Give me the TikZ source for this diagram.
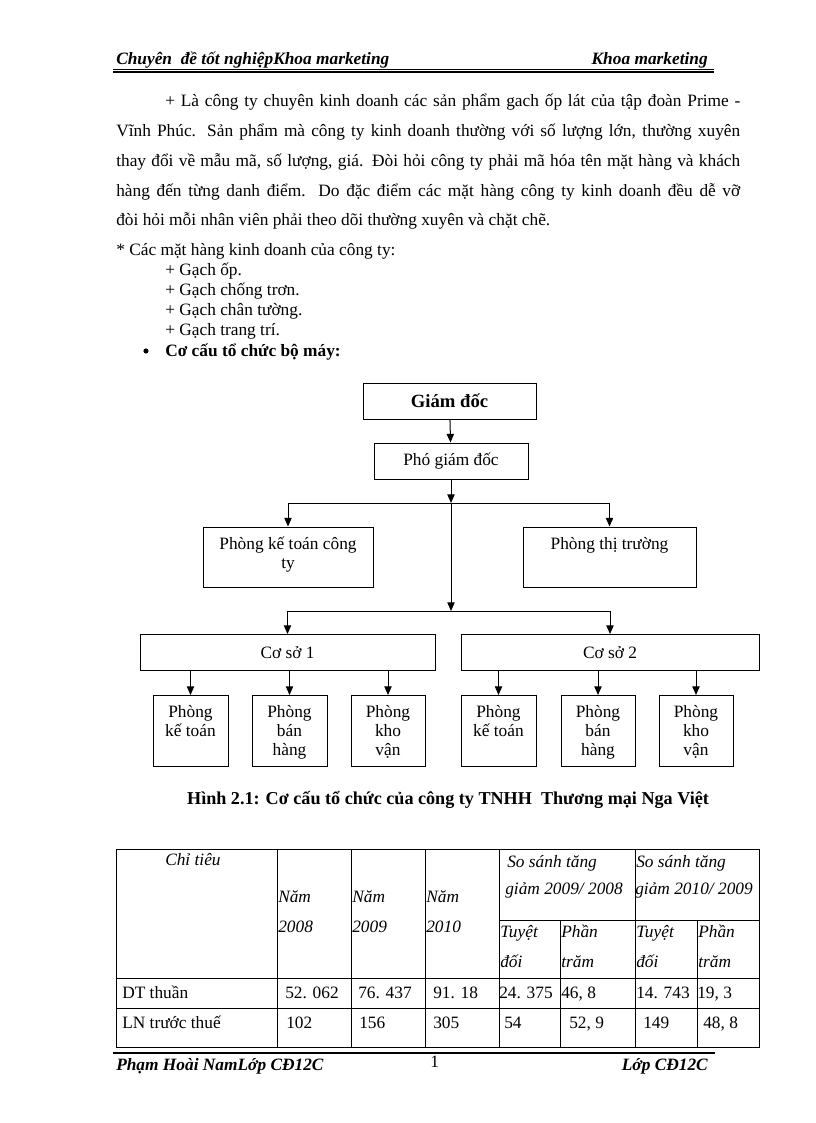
\documentclass[tikz,border=0pt]{standalone}
\usepackage{fontspec}
\setmainfont{Liberation Serif}
\usetikzlibrary{arrows.meta}
\newdimen\px \px=0.75pt
\newcommand\fb{\fontsize{13}{14.25}\selectfont}
\newcommand\fgd{\fontsize{14}{16}\selectfont\bfseries}
\newcommand\tb[4]{\parbox[c][#2\px][t]{#1\px}{\centering\vspace*{#3\px}#4\par}}
\begin{document}
\begin{tikzpicture}[x=0.75pt,y=-0.75pt,
  txt/.style={inner sep=0pt,anchor=base west,font=\fb},
  txtr/.style={inner sep=0pt,anchor=base east,font=\fb},
  box/.style={draw,line width=0.75pt,inner sep=0pt,font=\fb},
  arr/.style={line width=0.75pt,-{Triangle[length=6.5pt,width=5.5pt]}},
  grid/.style={line width=0.75pt},
  hdr/.style={inner sep=0pt,font=\fb\bfseries\itshape},
  tit/.style={inner sep=0pt,anchor=base west,font=\fb\itshape}]
\useasboundingbox (0,0) rectangle (816,1123);
\fill[white] (0,0) rectangle (816,1123);

% header
\node[hdr,anchor=base west] (h1) at (116,65) {Chuyên\ \ đề tốt nghiệpKhoa marketing};
\node[hdr,anchor=base east] (h2) at (708,65) {Khoa marketing};
\draw[line width=0.6pt] (113,69.3) -- (714,69.3);
\draw[line width=1.3pt] (113,72) -- (714,72);

% paragraph
\node[txt] (p1) at (165,107) {\makebox[575\px][s]{+ Là công ty chuyên kinh doanh các sản phẩm gach ốp lát của tập đoàn Prime -}};
\node[txt] (p2) at (116,137) {\makebox[624\px][s]{Vĩnh Phúc. Sản phẩm mà công ty kinh doanh thường với số lượng lớn, thường xuyên}};
\node[txt] (p3) at (116,167) {\makebox[624\px][s]{thay đổi về mẫu mã, số lượng, giá. Đòi hỏi công ty phải mã hóa tên mặt hàng và khách}};
\node[txt] (p4) at (116,197) {\makebox[624\px][s]{hàng đến từng danh điểm. Do đặc điểm các mặt hàng công ty kinh doanh đều dễ vỡ}};
\node[txt] (p5) at (116,226) {đòi hỏi mỗi nhân viên phải theo dõi thường xuyên và chặt chẽ.};

% list
\node[txt] (l0) at (116,255) {* Các mặt hàng kinh doanh của công ty:};
\node[txt] (l1) at (165,275) {+ Gạch ốp.};
\node[txt] (l2) at (165,295) {+ Gạch chống trơn.};
\node[txt] (l3) at (165,315) {+ Gạch chân tường.};
\node[txt] (l4) at (165,335) {+ Gạch trang trí.};
\fill (146,351) circle (2.6);
\node[txt,font=\fb\bfseries] (l5) at (165,356) {Cơ cấu tổ chức bộ máy:};

% org chart
\node[box,font=\fgd,minimum width=173\px,minimum height=36\px] (gd) at (449.5,401) {Giám đốc};
\node[box,minimum width=154\px,minimum height=36\px] (pgd) at (451,461) {Phó giám đốc};
\node[box] (pkt) at (288,557) {\tb{170}{60}{10}{Phòng kế toán công\\ty}};
\node[box] (ptt) at (609.5,557) {\tb{173}{60}{10}{Phòng thị trường}};
\coordinate (j1) at (451,503);
\coordinate (j2) at (451,611);
\draw[arr] (gd) -- (pgd);
\draw[arr] (pgd.south) -- (j1);
\draw[arr] (j1) -| (pkt.north);
\draw[arr] (j1) -| (ptt.north);
\draw[arr] (j1) -- (j2);

\node[box,minimum width=295\px,minimum height=36\px] (cs1) at (287.5,652.5) {Cơ sở 1};
\node[box,minimum width=298\px,minimum height=36\px] (cs2) at (610,652.5) {Cơ sở 2};
\draw[arr] (j2) -| (cs1.north);
\draw[arr] (j2) -| (cs2.north);

\node[box] (a1) at (190.5,731) {\tb{75}{71}{10}{Phòng\\kế toán}};
\node[box] (a2) at (289.5,731) {\tb{75}{71}{10}{Phòng\\bán\\hàng}};
\node[box] (a3) at (388,731) {\tb{74}{71}{10}{Phòng\\kho\\vận}};
\node[box] (b1) at (498.5,731) {\tb{75}{71}{10}{Phòng\\kế toán}};
\node[box] (b2) at (598,731) {\tb{74}{71}{10}{Phòng\\bán\\hàng}};
\node[box] (b3) at (696,731) {\tb{74}{71}{10}{Phòng\\kho\\vận}};
\foreach \n in {a1,a2,a3} \draw[arr] (cs1.south -| \n.north) -- (\n.north);
\foreach \n in {b1,b2,b3} \draw[arr] (cs2.south -| \n.north) -- (\n.north);

\node[inner sep=0pt,anchor=base,font=\fontsize{13.6}{15}\selectfont\bfseries] (cap) at (448,804) {Hình 2.1: Cơ cấu tổ chức của công ty TNHH\ \ Thương mại Nga Việt};

% table
\draw[grid] (116,849) rectangle (759,1047);
\foreach \x in {277,351,425,499,635} \draw[grid] (\x,849) -- (\x,1047);
\foreach \x in {560,697} \draw[grid] (\x,920) -- (\x,1047);
\draw[grid] (499,920) -- (759,920);
\draw[grid] (116,978) -- (759,978);
\draw[grid] (116,1008) -- (759,1008);

\node[tit] (t1) at (165,865) {Chỉ tiêu};
\node[tit] (t2) at (278,902) {Năm};
\node[tit] (t3) at (278,932) {2008};
\node[tit] (t4) at (352,902) {Năm};
\node[tit] (t5) at (352,932) {2009};
\node[tit] (t6) at (426,902) {Năm};
\node[tit] (t7) at (426,932) {2010};
\node[tit] (t8) at (507,867) {So sánh tăng};
\node[tit] (t9) at (505,894) {giảm 2009/ 2008};
\node[tit] (t10) at (636,867) {So sánh tăng};
\node[tit] (t11) at (635,894) {giảm 2010/ 2009};
\node[tit] (t12) at (500,937) {Tuyệt};
\node[tit] (t13) at (500,967) {đối};
\node[tit] (t14) at (561,937) {Phần};
\node[tit] (t15) at (561,967) {trăm};
\node[tit] (t16) at (636,937) {Tuyệt};
\node[tit] (t17) at (636,967) {đối};
\node[tit] (t18) at (698,937) {Phần};
\node[tit] (t19) at (698,967) {trăm};

\node[txt] (d1) at (122,998) {DT thuần};
\node[txt] (d2) at (285,998) {52. 062};
\node[txt] (d3) at (358,998) {76. 437};
\node[txt] (d4) at (433,998) {91. 18};
\node[txt] (d5) at (499,998) {24. 375};
\node[txt] (d6) at (561,998) {46, 8};
\node[txt] (d7) at (636,998) {14. 743};
\node[txt] (d8) at (697,998) {19, 3};
\node[txt] (e1) at (122,1028) {LN trước thuế};
\node[txt] (e2) at (286,1028) {102};
\node[txt] (e3) at (359,1028) {156};
\node[txt] (e4) at (433,1028) {305};
\node[txt] (e5) at (504,1028) {54};
\node[txt] (e6) at (569,1028) {52, 9};
\node[txt] (e7) at (643,1028) {149};
\node[txt] (e8) at (703,1028) {48, 8};

% footer
\draw[line width=1.6pt] (113,1053) -- (715,1053);
\node[hdr,anchor=base west] (f1) at (116,1070) {Phạm Hoài NamLớp CĐ12C};
\node[txt] (f2) at (430,1067) {1};
\node[hdr,anchor=base east] (f3) at (708,1070) {Lớp CĐ12C};
\end{tikzpicture}
\end{document}
